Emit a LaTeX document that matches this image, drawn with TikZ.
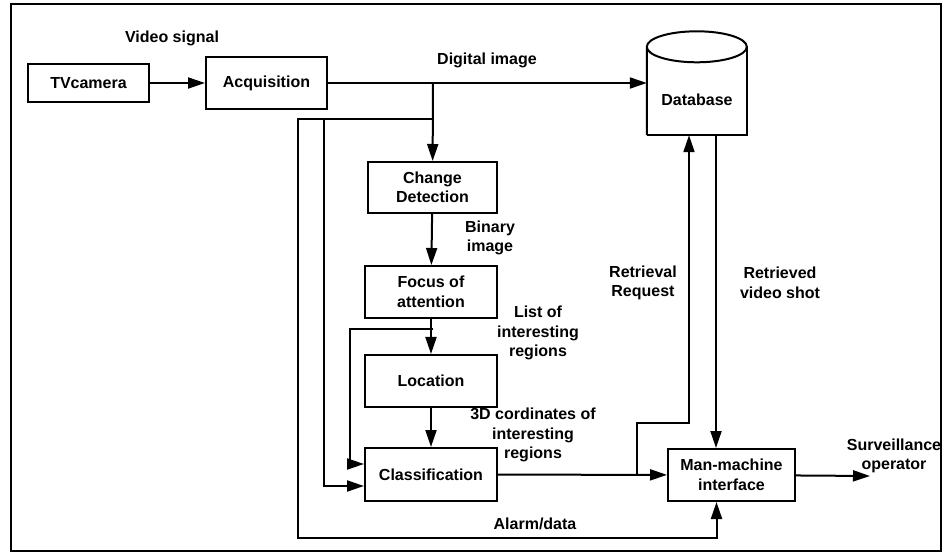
\documentclass[tikz,border=0pt]{standalone}
\usepackage{fontspec}
\setmainfont{Liberation Sans}
\usepackage{tikz}
\usetikzlibrary{arrows.meta}

\tikzset{
    blockbox/.style={draw, line width=2pt, minimum width=130pt, minimum height=52pt, align=center, inner sep=2pt},
    flow/.style={line width=2pt, -{Triangle[length=17pt,width=11pt]}},
    tag/.style={align=center, inner sep=0pt}
}

\begin{document}
\begin{tikzpicture}[x=1pt, y=-1pt, font=\bfseries\fontsize{16}{19.5}\selectfont]
    \useasboundingbox (0,0) rectangle (943,553);
    \draw[line width=2.8pt] (11,4) rectangle (941,551);

    \node[blockbox, minimum width=121pt, minimum height=38pt] (cam) at (88.5,83) {TVcamera};
    \node[blockbox, minimum width=121pt] (acq) at (266.5,83) {Acquisition};
    \node[blockbox, minimum width=129pt, minimum height=51pt] (chg) at (432.5,187.5) {Change\\Detection};
    \node[blockbox, minimum width=132pt] (foc) at (431,292) {Focus of\\attention};
    \node[blockbox, minimum width=132pt] (loc) at (431,381) {Location};
    \node[blockbox, minimum width=132pt, minimum height=53pt] (cls) at (431,474.5) {Classification};
    \node[blockbox, minimum width=127pt] (mmi) at (731.5,475) {Man-machine\\interface};

    \node[minimum width=100pt, minimum height=70pt, inner sep=0pt] (db) at (697,100) {Database};
    \draw[line width=2pt] (db.south west) -- ([yshift=18pt]db.north west)
        arc[start angle=180, end angle=-180, x radius=50pt, y radius=15.5pt];
    \draw[line width=2pt] ([yshift=18pt]db.north east) -- (db.south east) -- (db.south west);

    \coordinate (split) at (433,83);
    \coordinate (tap) at (433,119);
    \coordinate (tap2) at (433,329);
    \coordinate (op) at (870,476);

    \draw[flow] (cam) -- (acq);
    \draw[flow] (acq.east) -- (acq.east -| db.west);
    \draw[flow] (split) -- (chg);
    \draw[flow] (chg) -- (foc);
    \draw[flow] (foc) -- (loc);
    \draw[flow] (loc) -- (cls);
    \draw[flow] (cls) -- (mmi);
    \draw[flow] (mmi) -- (op);
    \draw[flow] (tap) -| (298,538) -| ([xshift=-15pt]mmi.south);
    \draw[flow] (tap) -| (324,486) -- ([yshift=-11.5pt]cls.west);
    \draw[flow] (tap2) -| (350,464) -- ([yshift=10.5pt]cls.west);
    \draw[flow] (637,474.5) |- (689,423) -- ([xshift=-8pt]db.south);
    \draw[flow] ([xshift=19pt]db.south) -- ([xshift=19pt]db.south |- mmi.north);

    \node[tag] (lvid) at (172,38) {Video signal};
    \node[tag] (ldig) at (487,60) {Digital image};
    \node[tag] (lbin) at (490,238) {Binary\\image};
    \node[tag] (llist) at (538,333) {List of\\interesting\\regions};
    \node[tag] (lcoord) at (533,435) {3D cordinates of\\interesting\\regions};
    \node[tag] (lreq) at (643,283) {Retrieval\\Request};
    \node[tag] (lshot) at (780,283) {Retrieved\\video shot};
    \node[tag] (lalarm) at (535,524) {Alarm/data};
    \node[tag] (lop) at (894,456) {Surveillance\\operator};
\end{tikzpicture}
\end{document}
